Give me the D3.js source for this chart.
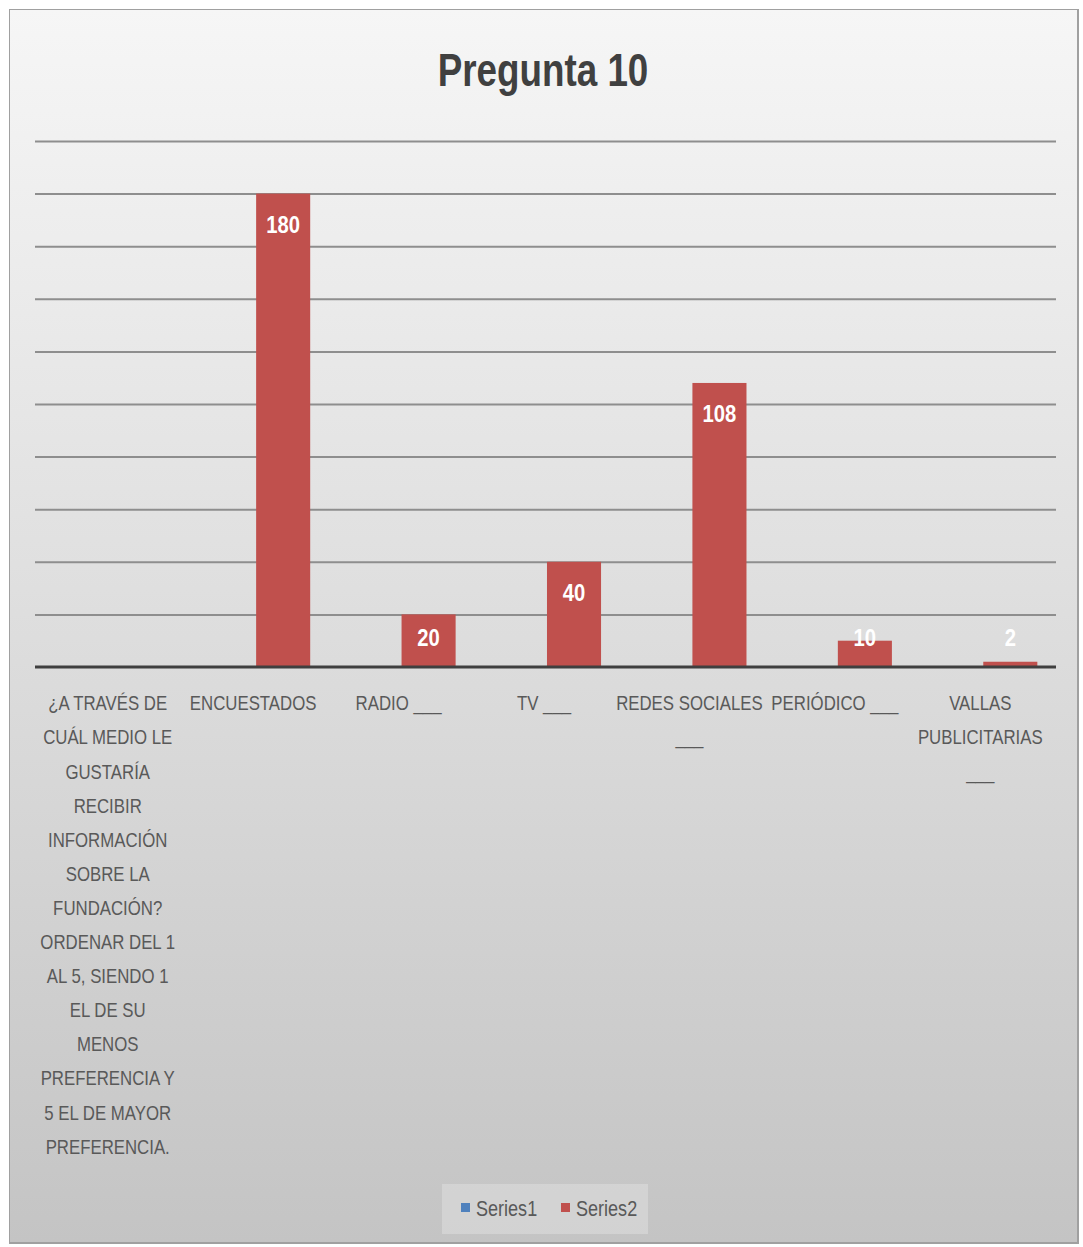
<!DOCTYPE html>
<html>
<head>
<meta charset="utf-8">
<script src="https://cdn.jsdelivr.net/npm/d3@7"></script>
<style>
  body { margin: 0; background: #fff; }
  text { font-family: "Liberation Sans", Arial, sans-serif; }
</style>
</head>
<body>
<script>
// chart data
var categories = [
  "¿A TRAVÉS DE\nCUÁL MEDIO LE\nGUSTARÍA\nRECIBIR\nINFORMACIÓN\nSOBRE LA\nFUNDACIÓN?\nORDENAR DEL 1\nAL 5, SIENDO 1\nEL DE SU\nMENOS\nPREFERENCIA Y\n5 EL DE MAYOR\nPREFERENCIA.",
  "ENCUESTADOS",
  "RADIO  ___",
  "TV  ___",
  "REDES SOCIALES\n___",
  "PERIÓDICO  ___",
  "VALLAS\nPUBLICITARIAS\n___"
];
var seriesNames = ["Series1", "Series2"];
var series1 = [null, null, null, null, null, null, null];
var series2 = [null, 180, 20, 40, 108, 10, 2];
var yTicks = [20, 40, 60, 80, 100, 120, 140, 160, 180, 200];
var seriesColors = ["#4f81bd", "#c0504d"];

var width = 1083, height = 1247;
var margin = {left: 35, right: 30, top: 141, baseline: 667};

// squeeze text horizontally, the chart font is a narrow one
var condense = function(sel, factor) {
  sel.each(function() {
    var w = this.getComputedTextLength();
    d3.select(this)
      .attr("textLength", w * factor)
      .attr("lengthAdjust", "spacingAndGlyphs");
  });
};

var svg = d3.select("body").append("svg")
  .attr("width", width)
  .attr("height", height);

// background with gradient
var defs = svg.append("defs");
var grad = defs.append("linearGradient")
  .attr("id", "bg")
  .attr("x1", 0).attr("y1", 0).attr("x2", 0).attr("y2", 1);
grad.append("stop").attr("offset", "0%").attr("stop-color", "#f6f6f6");
grad.append("stop").attr("offset", "45%").attr("stop-color", "#e0e0e0");
grad.append("stop").attr("offset", "100%").attr("stop-color", "#c4c4c4");

svg.append("rect")
  .attr("x", 9).attr("y", 9)
  .attr("width", width - 13).attr("height", height - 12)
  .style("fill", "#a0a0a0");
svg.append("rect")
  .attr("x", 10).attr("y", 10)
  .attr("width", width - 16).attr("height", height - 15)
  .style("fill", "url(#bg)");

var x0 = d3.scaleBand()
  .domain(d3.range(categories.length))
  .range([margin.left, width - margin.right])
  .padding(0);

var x1 = d3.scaleBand()
  .domain(seriesNames)
  .range([0, x0.bandwidth()])
  .paddingInner(0)
  .paddingOuter(0.345)
  .align(0.58);

var y = d3.scaleLinear()
  .domain([0, 200])
  .range([margin.baseline, margin.top]);

// gridlines
var grid = svg.append("g")
  .attr("transform", "translate(" + margin.left + ",0)")
  .call(d3.axisLeft(y).tickValues(yTicks).tickSize(-(width - margin.left - margin.right + 3)).tickFormat(""));
grid.select(".domain").remove();
grid.selectAll("line")
  .style("stroke", "#8e8e8e")
  .style("stroke-width", 2);

// bars
var seriesData = [series1, series2];
seriesNames.forEach(function(name, s) {
  var vals = seriesData[s];
  var g = svg.append("g");
  var pts = vals.map(function(v, i) { return {i: i, v: v}; })
    .filter(function(d) { return d.v !== null; });

  g.selectAll("rect")
    .data(pts)
    .enter().append("rect")
    .attr("x", function(d) { return x0(d.i) + x1(name); })
    .attr("y", function(d) { return y(d.v); })
    .attr("width", x1.bandwidth())
    .attr("height", function(d) { return y(0) - y(d.v); })
    .style("fill", seriesColors[s]);

  var labels = g.selectAll("text")
    .data(pts)
    .enter().append("text")
    .attr("x", function(d) { return x0(d.i) + x1(name) + x1.bandwidth() / 2; })
    .attr("y", function(d) { return Math.min(y(d.v) + 31, y(0) - 29); })
    .attr("dy", "0.35em")
    .attr("text-anchor", "middle")
    .style("fill", "#ffffff")
    .style("font-weight", "bold")
    .style("font-size", "23px")
    .text(function(d) { return d.v; });
  condense(labels, 0.88);
});

// baseline
svg.append("line")
  .attr("x1", margin.left).attr("x2", width - margin.right + 3)
  .attr("y1", y(0)).attr("y2", y(0))
  .style("stroke", "#3f3f3f")
  .style("stroke-width", 3);

// category labels
var xAxis = svg.append("g")
  .attr("transform", "translate(0," + y(0) + ")")
  .call(d3.axisBottom(x0).tickSize(0).tickFormat(""));
xAxis.select(".domain").remove();
xAxis.selectAll(".tick").each(function(d) {
  var tick = d3.select(this);
  tick.select("text").remove();
  var lines = categories[d].split("\n");
  var texts = tick.selectAll("text.lbl")
    .data(lines)
    .enter().append("text")
    .attr("class", "lbl")
    .attr("x", 0)
    .attr("y", function(line, k) { return 36 + k * 34.1; })
    .attr("dy", "0.35em")
    .attr("text-anchor", "middle")
    .style("font-size", "21px")
    .style("fill", "#595959")
    .text(function(line) { return line; });
  condense(texts, 0.8);
});

// title
var title = svg.append("text")
  .attr("x", 543)
  .attr("y", 86)
  .attr("text-anchor", "middle")
  .style("font-size", "46px")
  .style("font-weight", "bold")
  .style("fill", "#404040")
  .text("Pregunta 10");
condense(title, 0.8);

// legend
var legend = svg.append("g");
legend.append("rect")
  .attr("x", 442).attr("y", 1184)
  .attr("width", 206).attr("height", 50)
  .style("fill", "#dcdcdc")
  .style("opacity", 0.6);
var legendX = [461, 561];
seriesNames.forEach(function(name, s) {
  legend.append("rect")
    .attr("x", legendX[s]).attr("y", 1203)
    .attr("width", 9).attr("height", 9)
    .style("fill", seriesColors[s]);
  var t = legend.append("text")
    .attr("x", legendX[s] + 15).attr("y", 1216)
    .style("font-size", "22px")
    .style("fill", "#595959")
    .text(name);
  condense(t, 0.82);
});
</script>
</body>
</html>
